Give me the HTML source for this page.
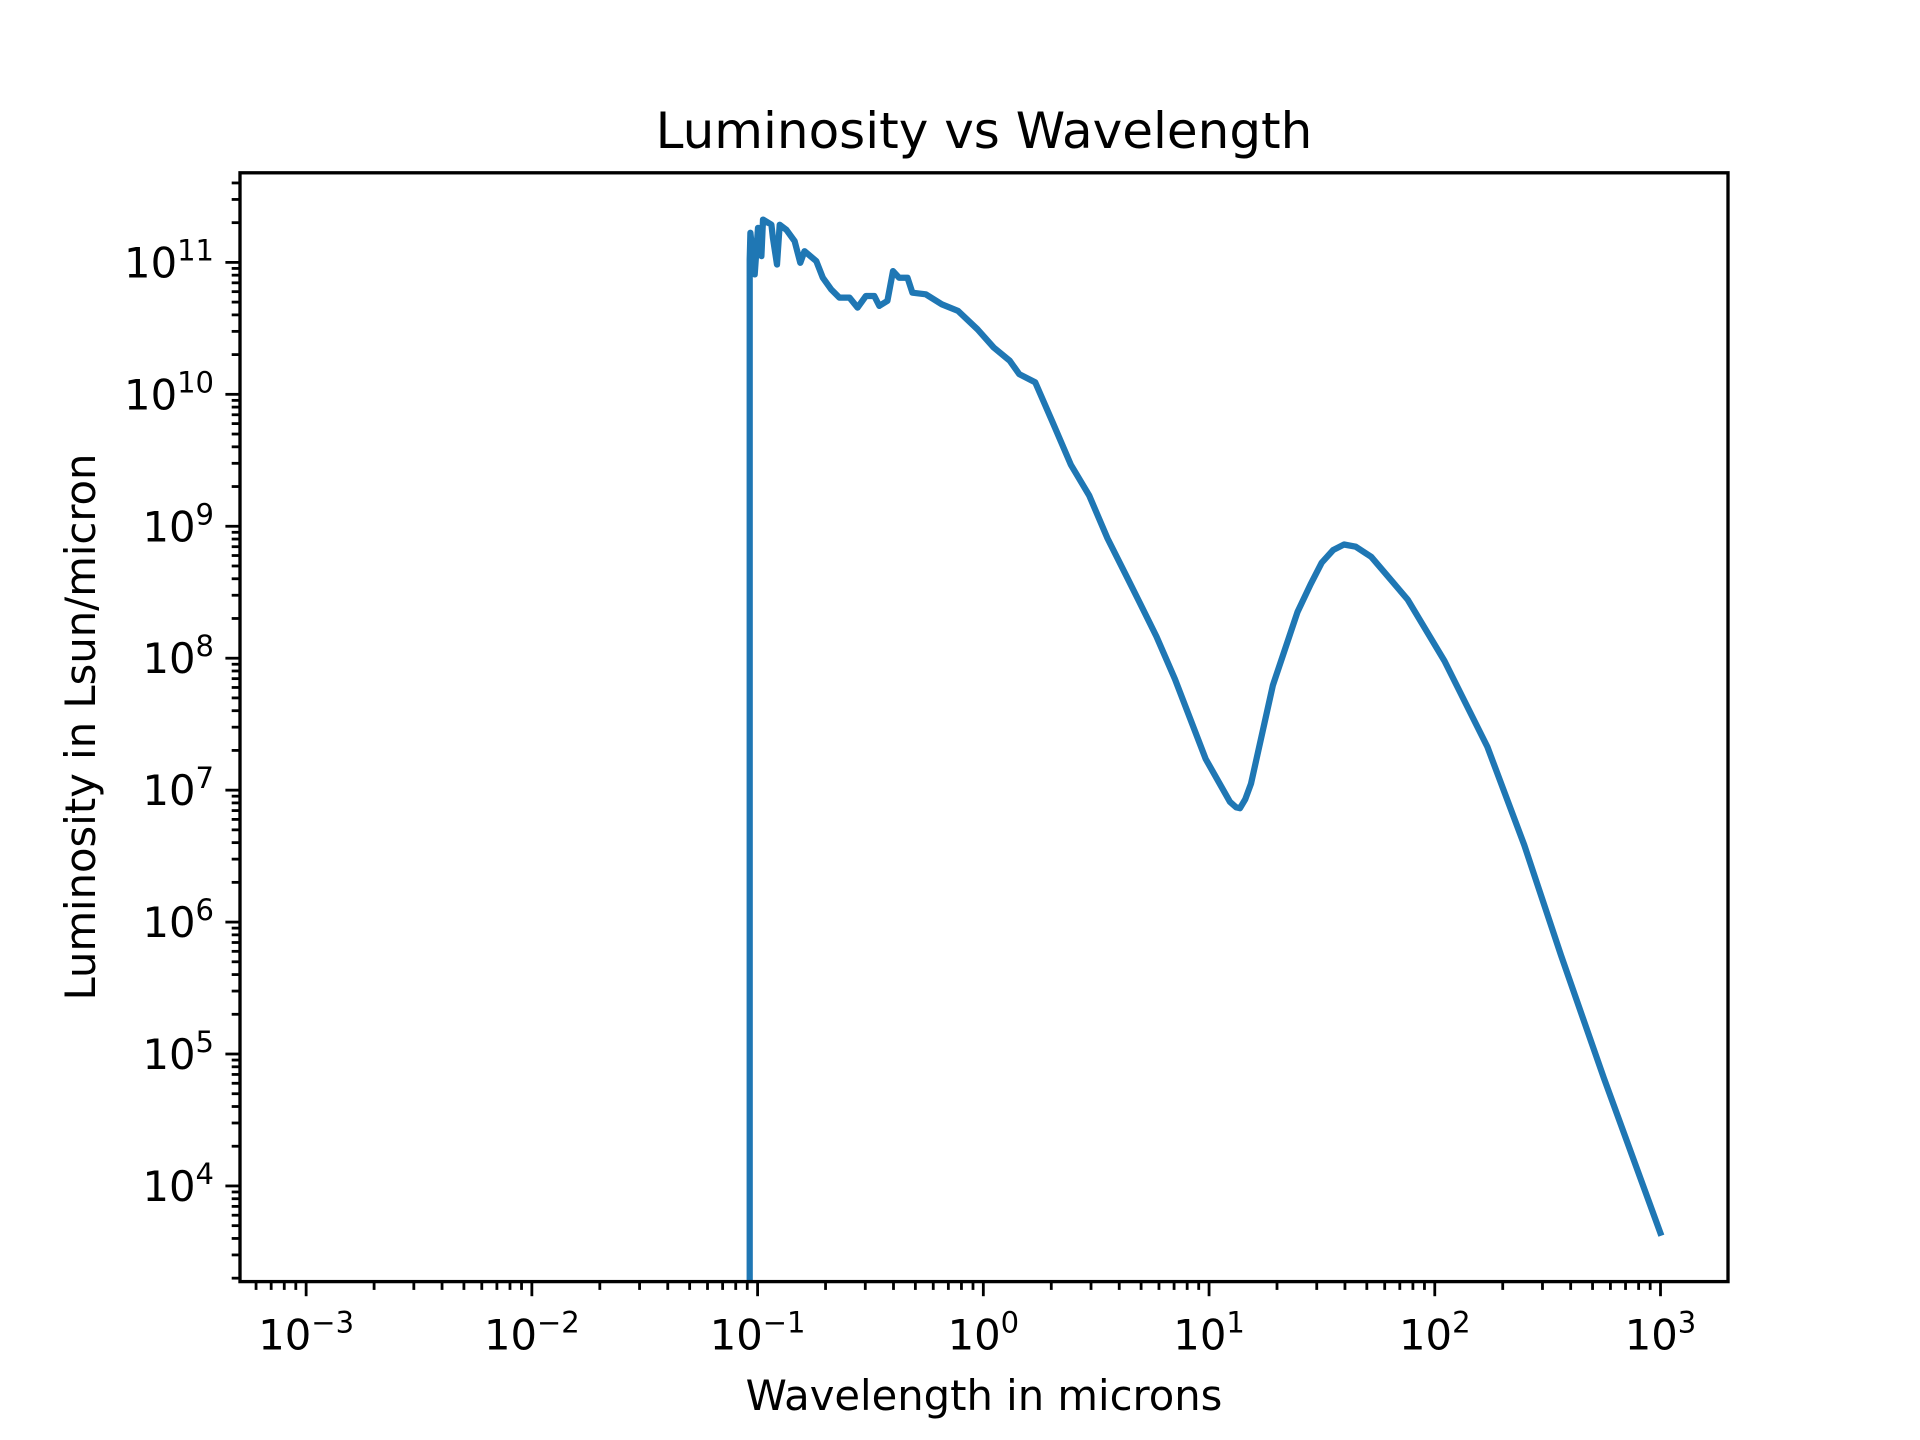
<!DOCTYPE html>
<html><head><meta charset="utf-8"><style>
body{margin:0;background:#fff}
svg{display:block;font-family:"DejaVu Sans","Liberation Sans",sans-serif}
</style></head><body>
<svg id="chart" width="1920" height="1440" viewBox="0 0 1920 1440" xmlns="http://www.w3.org/2000/svg">
<rect width="1920" height="1440" fill="#fff"/>
<defs><clipPath id="plotclip"><rect x="240" y="172.8" width="1488" height="1108.8"/></clipPath></defs>
<text x="984" y="148" font-size="50" text-anchor="middle">Luminosity vs Wavelength</text>
<text x="984" y="1410" font-size="41.7" text-anchor="middle">Wavelength in microns</text>
<text x="0" y="0" font-size="41.7" text-anchor="middle" transform="translate(95,727) rotate(-90)">Luminosity in Lsun/micron</text>
<g id="ticks"></g>
<path id="series" fill="none" stroke="#1f77b4" stroke-width="6.25" stroke-linejoin="round" stroke-linecap="square" clip-path="url(#plotclip)"/>
<rect x="240" y="172.8" width="1488" height="1108.8" fill="none" stroke="#000" stroke-width="3.33"/>
</svg>
<script>
const logWavelength=[-1.035,-1.035,-1.035,-1.032,-1.013,-0.998,-0.983,-0.976,-0.939,-0.932,-0.914,-0.902,-0.873,-0.836,-0.811,-0.792,-0.740,-0.711,-0.674,-0.638,-0.593,-0.557,-0.520,-0.483,-0.461,-0.425,-0.400,-0.373,-0.336,-0.314,-0.255,-0.184,-0.112,-0.026,0.046,0.117,0.159,0.230,0.306,0.388,0.469,0.550,0.632,0.686,0.767,0.849,0.985,1.093,1.120,1.137,1.160,1.186,1.283,1.392,1.450,1.499,1.550,1.598,1.650,1.718,1.880,2.043,2.233,2.396,2.559,2.749,2.999];
const logLuminosity=[3.0,11.022,11.022,11.224,10.909,11.261,11.048,11.324,11.286,11.186,10.984,11.286,11.248,11.161,10.997,11.085,11.010,10.884,10.795,10.733,10.733,10.657,10.745,10.745,10.670,10.708,10.934,10.884,10.884,10.770,10.758,10.682,10.632,10.493,10.355,10.255,10.153,10.091,9.792,9.466,9.233,8.908,8.629,8.444,8.164,7.840,7.236,6.911,6.870,6.863,6.930,7.049,7.795,8.350,8.560,8.724,8.820,8.862,8.845,8.769,8.444,7.979,7.328,6.585,5.748,4.819,3.646];
const xTickExps=["\u22123","\u22122","\u22121","0","1","2","3"];
const xTickVals=[-3,-2,-1,0,1,2,3];
const yTickExps=["4","5","6","7","8","9","10","11"];
const yTickVals=[4,5,6,7,8,9,10,11];
const L=240,R=1728,T=172.8,B=1281.6;
const xMin=-3.293,xMax=3.299,yMin=3.275,yMax=11.679;
function sx(v){return L+(v-xMin)/(xMax-xMin)*(R-L);}
function sy(v){return B-(v-yMin)/(yMax-yMin)*(B-T);}
const NS="http://www.w3.org/2000/svg";
const g=document.getElementById('ticks');
function line(x1,y1,x2,y2,name){const l=document.createElementNS(NS,'line');l.setAttribute('x1',x1);l.setAttribute('y1',y1);l.setAttribute('x2',x2);l.setAttribute('y2',y2);l.setAttribute('stroke','#000');l.setAttribute('stroke-width','2.8');


g.appendChild(l);}
for(let d=-4;d<=3;d++){for(let m=2;m<=9;m++){const v=d+Math.log10(m);if(v>xMin&&v<xMax){line(sx(v),B,sx(v),B+8.3,'x-minor-tick');}}}
xTickVals.forEach((v,i)=>{const x=sx(v);line(x,B,x,B+14.6,'x-major-tick');
const t=document.createElementNS(NS,'text');t.setAttribute('x',x);t.setAttribute('y',B+68);t.setAttribute('font-size','41.7');t.setAttribute('text-anchor','middle');


t.innerHTML='10<tspan font-size="29" dy="-17">'+xTickExps[i]+'</tspan>';g.appendChild(t);});
for(let d=3;d<=11;d++){for(let m=2;m<=9;m++){const v=d+Math.log10(m);if(v>yMin&&v<yMax){line(L,sy(v),L-8.3,sy(v),'y-minor-tick');}}}
yTickVals.forEach((v,i)=>{const y=sy(v);line(L,y,L-14.6,y,'y-major-tick');
const t=document.createElementNS(NS,'text');t.setAttribute('x',L-26);t.setAttribute('y',y+15);t.setAttribute('font-size','41.7');t.setAttribute('text-anchor','end');


t.innerHTML='10<tspan font-size="29" dy="-17">'+yTickExps[i]+'</tspan>';g.appendChild(t);});
let d='';logWavelength.forEach((v,i)=>{d+=(i?'L':'M')+sx(v).toFixed(1)+' '+sy(logLuminosity[i]).toFixed(1);});
document.getElementById('series').setAttribute('d',d);
</script>
</body></html>
